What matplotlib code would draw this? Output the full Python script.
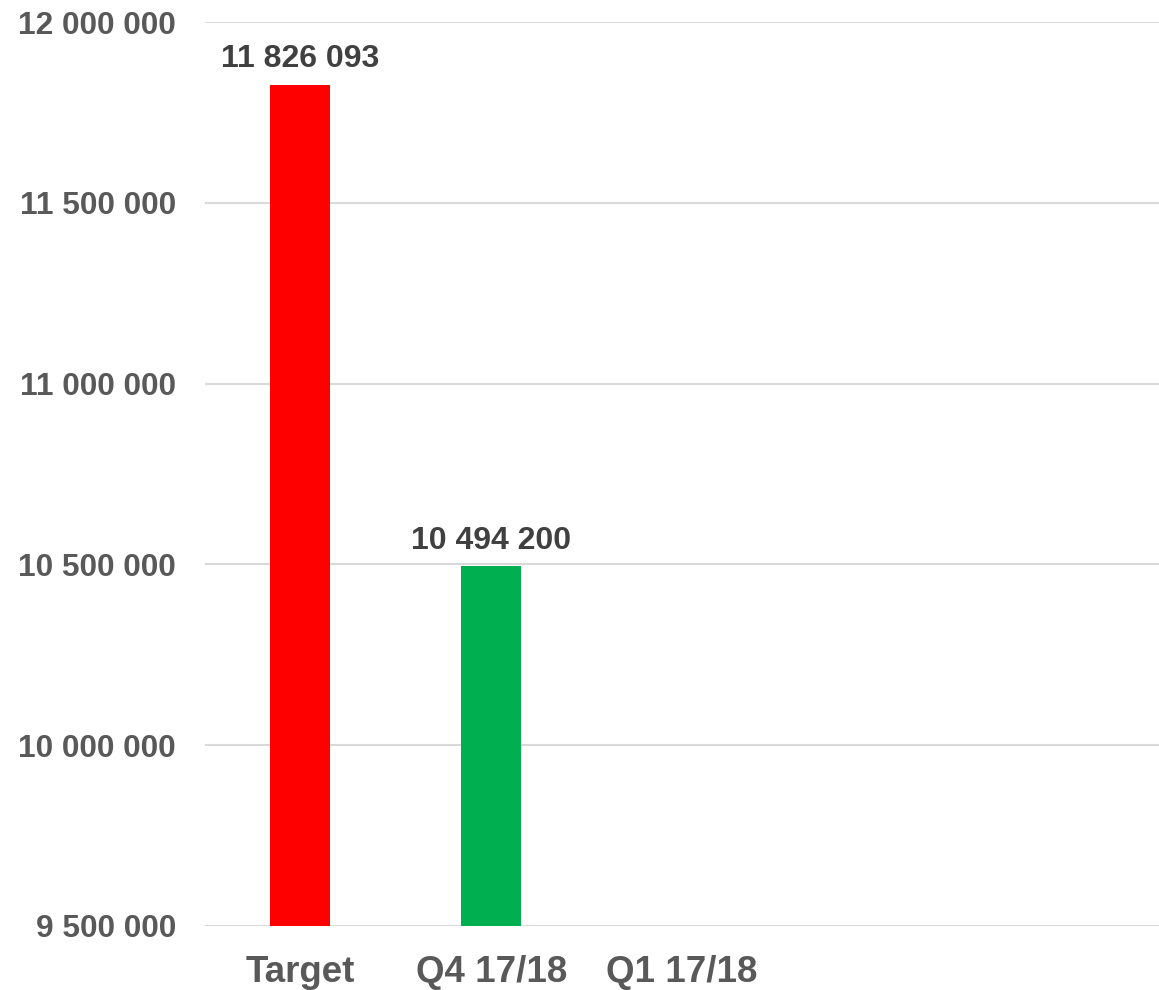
import matplotlib
matplotlib.use("Agg")
import matplotlib.pyplot as plt
import numpy as np

# Data
categories = ["Target", "Q4 17/18", "Q1 17/18", "", ""]
values = [11826093, 10494200, np.nan, np.nan, np.nan]
bar_colors = ["#FF0000", "#00B050", "#5B9BD5", "#5B9BD5", "#5B9BD5"]
y_ticks = [9500000, 10000000, 10500000, 11000000, 11500000, 12000000]


def fmt(v):
    return f"{int(round(v)):,}".replace(",", " ")


plt.rcParams["font.family"] = ["Liberation Sans", "DejaVu Sans"]
plt.rcParams["font.weight"] = "bold"

fig = plt.figure(figsize=(11.59, 9.9), dpi=100)
ax = fig.add_axes([205 / 1159, 64 / 990, 1 - 205 / 1159, (926 - 22) / 990])

x = np.arange(len(categories))
base = y_ticks[0]
heights = [v - base if not np.isnan(v) else 0 for v in values]
bars = ax.bar(x, heights, bottom=base, width=0.315, color=bar_colors, zorder=3)

for xi, v in zip(x, values):
    if not np.isnan(v):
        ax.annotate(fmt(v), (xi, v), xytext=(0, 7.5), textcoords="offset points",
                    ha="center", va="bottom", fontsize=23, fontweight="bold",
                    color="#404040")

ax.set_xlim(-0.5, len(categories) - 0.5)
ax.set_ylim(y_ticks[0], y_ticks[-1])
ax.set_yticks(y_ticks)
ax.set_yticklabels([fmt(t) for t in y_ticks])
ax.set_xticks(x)
ax.set_xticklabels(categories)

ax.tick_params(axis="y", length=0, pad=21, labelsize=22.8, labelcolor="#595959")
ax.tick_params(axis="x", length=0, pad=21, labelsize=26.5, labelcolor="#595959")
for lbl in ax.get_yticklabels() + ax.get_xticklabels():
    lbl.set_fontweight("bold")

ax.grid(axis="y", color="#D9D9D9", linewidth=1.5, zorder=0)
ax.set_axisbelow(True)
for s in ax.spines.values():
    s.set_visible(False)

fig.savefig("out.png", dpi=100, facecolor="white")
